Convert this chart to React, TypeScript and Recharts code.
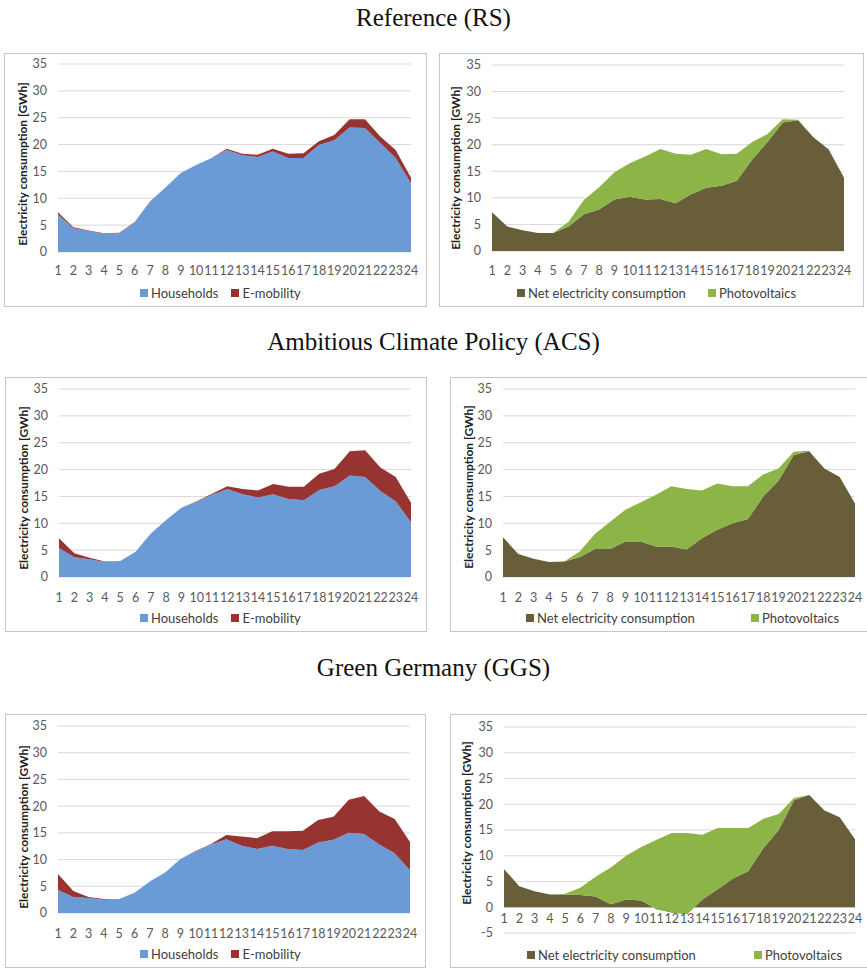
import { Area, AreaChart, CartesianGrid, Legend, XAxis, YAxis } from "recharts";

const FONT = "Lato, 'Open Sans', sans-serif";
const BLUE = "#6a9bd6";
const RED = "#973432";
const OLIVE = "#685e3a";
const GREEN = "#8cb446";

const HOURS = [
  "1", "2", "3", "4", "5", "6", "7", "8", "9", "10", "11", "12",
  "13", "14", "15", "16", "17", "18", "19", "20", "21", "22", "23", "24",
];

// Reference (RS)
const RS_HOUSEHOLDS = [7.0, 4.4, 3.9, 3.4, 3.5, 5.5, 9.3, 12.0, 14.7, 16.2, 17.5, 19.0, 18.0, 17.7, 18.7, 17.5, 17.5, 19.9, 20.8, 23.2, 23.1, 20.3, 17.5, 12.8];
const RS_EMOBILITY = [0.4, 0.2, 0.1, 0.1, 0.1, 0.1, 0.1, 0, 0, 0, 0, 0.2, 0.3, 0.4, 0.5, 0.8, 0.9, 0.7, 1.0, 1.5, 1.6, 1.2, 1.5, 1.0];
const RS_NET = [7.3, 4.6, 3.9, 3.4, 3.4, 4.6, 6.9, 7.8, 9.7, 10.2, 9.7, 9.8, 9.0, 10.7, 11.9, 12.3, 13.2, 17.2, 20.5, 24.2, 24.6, 21.4, 19.1, 13.8];
const RS_PV = [0, 0, 0, 0, 0, 0.9, 2.7, 4.2, 5.1, 6.3, 8.1, 9.4, 9.3, 7.4, 7.3, 5.9, 5.1, 3.3, 1.5, 0.6, 0.1, 0, 0, 0];

// Ambitious Climate Policy (ACS)
const ACS_HOUSEHOLDS = [5.4, 3.7, 3.3, 2.8, 3.0, 4.7, 8.1, 10.6, 12.9, 14.0, 15.3, 16.4, 15.4, 14.8, 15.4, 14.5, 14.3, 16.2, 16.9, 18.9, 18.6, 16.0, 14.1, 10.2];
const ACS_EMOBILITY = [1.8, 0.7, 0.3, 0.1, 0, 0, 0, 0, 0, 0.1, 0.2, 0.5, 1.0, 1.3, 1.9, 2.3, 2.5, 3.0, 3.2, 4.5, 5.0, 4.4, 4.5, 3.6];
const ACS_NET = [7.4, 4.3, 3.4, 2.8, 2.9, 3.7, 5.2, 5.2, 6.6, 6.6, 5.7, 5.7, 5.1, 7.2, 8.8, 10.0, 10.8, 15.0, 17.9, 22.7, 23.4, 20.2, 18.6, 13.7];
const ACS_PV = [0, 0, 0, 0, 0, 1.0, 2.8, 5.1, 5.9, 7.3, 9.6, 11.2, 11.3, 8.9, 8.6, 6.9, 6.1, 4.1, 2.3, 0.6, 0.1, 0, 0, 0];

// Green Germany (GGS)
const GGS_HOUSEHOLDS = [4.3, 3.0, 2.8, 2.5, 2.6, 3.8, 5.9, 7.6, 10.1, 11.5, 12.8, 13.8, 12.6, 12.0, 12.6, 12.0, 11.8, 13.2, 13.7, 15.0, 14.8, 12.8, 11.2, 8.0];
const GGS_EMOBILITY = [3.0, 1.1, 0.2, 0.1, 0, 0, 0, 0, 0, 0.1, 0.1, 0.8, 1.7, 2.0, 2.7, 3.3, 3.6, 4.2, 4.3, 6.2, 7.1, 6.2, 6.4, 5.3];
const GGS_NET = [7.4, 4.1, 3.1, 2.5, 2.5, 2.4, 2.1, 0.6, 1.5, 1.3, -0.4, -1.0, -1.3, 1.5, 3.5, 5.6, 7.0, 11.5, 15.0, 20.8, 21.8, 18.8, 17.5, 13.2];
const GGS_PV = [0, 0, 0, 0, 0.1, 1.4, 3.8, 7.1, 8.5, 10.4, 13.5, 15.4, 15.7, 12.6, 11.9, 9.8, 8.4, 5.7, 3.1, 0.4, 0, 0, 0, 0];

const TICKS = [0, 5, 10, 15, 20, 25, 30, 35];
const TICKS_NEG = [-5, 0, 5, 10, 15, 20, 25, 30, 35];

type Series = { key: string; name: string; color: string };
const DEMAND: Series[] = [
  { key: "a", name: "Households", color: BLUE },
  { key: "b", name: "E-mobility", color: RED },
];
const SUPPLY: Series[] = [
  { key: "a", name: "Net electricity consumption", color: OLIVE },
  { key: "b", name: "Photovoltaics", color: GREEN },
];

const rows = (a: number[], b: number[]) => HOURS.map((hour, i) => ({ hour, a: a[i], b: b[i] }));

type PanelCfg = {
  box: { x: number; y: number; w: number; h: number };
  plot: { l: number; r: number; t: number; b: number };
  domain: [number, number];
  ticks: number[];
  titleX: number;
  titleY: number;
  tickY: number;
  legendX: number;
  legendY: number;
  legendGap: number;
};

function Panel({ cfg, data, series }: { cfg: PanelCfg; data: any[]; series: Series[] }) {
  const { box, plot } = cfg;
  const xAxisH = 20;
  const margin = {
    top: plot.t - box.y,
    right: box.x + box.w - plot.r,
    left: 0,
    bottom: box.y + box.h - plot.b - xAxisH,
  };
  const tickBase = cfg.tickY - box.y + 4.5;
  const tx = cfg.titleX - box.x;
  const ty = cfg.titleY - box.y;

  return (
    <div
      style={{
        position: "absolute",
        left: box.x,
        top: box.y,
        width: box.w,
        height: box.h,
        border: "1px solid #c6c6c6",
        boxSizing: "border-box",
      }}
    >
      <div style={{ position: "absolute", left: -1, top: -1 }}>
        <AreaChart width={box.w} height={box.h} data={data} margin={margin}>
          <CartesianGrid vertical={false} stroke="#d9d9d9" />
          <XAxis
            dataKey="hour"
            interval={0}
            axisLine={false}
            tickLine={false}
            height={xAxisH}
            tick={(p: any) => (
              <text x={p.x} y={tickBase} textAnchor="middle" fontFamily={FONT} fontSize={12.5} fill="#595959">
                {p.payload.value}
              </text>
            )}
          />
          <YAxis
            width={plot.l - box.x}
            domain={cfg.domain}
            ticks={cfg.ticks}
            interval={0}
            axisLine={false}
            tickLine={false}
            tickSize={0}
            tickMargin={11}
            tick={{ fontFamily: FONT, fontSize: 12.5, fill: "#595959" }}
            label={() => (
              <text
                x={tx}
                y={ty}
                transform={`rotate(-90, ${tx}, ${ty})`}
                textAnchor="middle"
                dominantBaseline="central"
                fontFamily={FONT}
                fontWeight="bold"
                fontSize={12}
                fill="#222"
              >
                Electricity consumption [GWh]
              </text>
            )}
          />
          {series.map((s) => (
            <Area
              key={s.key}
              dataKey={s.key}
              name={s.name}
              type="linear"
              stackId="s"
              stroke="none"
              fill={s.color}
              fillOpacity={1}
              isAnimationActive={false}
            />
          ))}
          <Legend
            layout="horizontal"
            verticalAlign="middle"
            align="center"
            wrapperStyle={{ left: cfg.legendX - box.x, top: cfg.legendY - box.y - 8, width: "auto" }}
            content={() => (
              <div
                style={{
                  display: "flex",
                  alignItems: "center",
                  whiteSpace: "nowrap",
                  fontFamily: FONT,
                  fontSize: 13,
                  lineHeight: "16px",
                  color: "#404040",
                }}
              >
                {series.map((s, i) => (
                  <span
                    key={s.key}
                    style={{
                      display: "inline-flex",
                      alignItems: "center",
                      marginRight: i < series.length - 1 ? cfg.legendGap : 0,
                    }}
                  >
                    <span style={{ display: "inline-block", width: 8, height: 8, background: s.color, marginRight: 3 }} />
                    {s.name}
                  </span>
                ))}
              </div>
            )}
          />
        </AreaChart>
      </div>
    </div>
  );
}

const PANELS: { cfg: PanelCfg; data: any[]; series: Series[] }[] = [
  {
    cfg: { box: { x: 4, y: 53, w: 423, h: 254 }, plot: { l: 58, r: 411, t: 64, b: 252 }, domain: [0, 35], ticks: TICKS, titleX: 22, titleY: 164, tickY: 270, legendX: 140, legendY: 293, legendGap: 13 },
    data: rows(RS_HOUSEHOLDS, RS_EMOBILITY),
    series: DEMAND,
  },
  {
    cfg: { box: { x: 439, y: 53, w: 425, h: 254 }, plot: { l: 492, r: 844, t: 65, b: 251 }, domain: [0, 35], ticks: TICKS, titleX: 455, titleY: 168, tickY: 270, legendX: 517, legendY: 293, legendGap: 22 },
    data: rows(RS_NET, RS_PV),
    series: SUPPLY,
  },
  {
    cfg: { box: { x: 5, y: 377, w: 422, h: 255 }, plot: { l: 59, r: 411, t: 389, b: 577 }, domain: [0, 35], ticks: TICKS, titleX: 23, titleY: 488, tickY: 597, legendX: 140, legendY: 618, legendGap: 13 },
    data: rows(ACS_HOUSEHOLDS, ACS_EMOBILITY),
    series: DEMAND,
  },
  {
    cfg: { box: { x: 450, y: 377, w: 422, h: 255 }, plot: { l: 503, r: 855, t: 389, b: 577 }, domain: [0, 35], ticks: TICKS, titleX: 468, titleY: 487, tickY: 597, legendX: 526, legendY: 618, legendGap: 56 },
    data: rows(ACS_NET, ACS_PV),
    series: SUPPLY,
  },
  {
    cfg: { box: { x: 5, y: 714, w: 421, h: 254 }, plot: { l: 58, r: 410, t: 726, b: 913 }, domain: [0, 35], ticks: TICKS, titleX: 23, titleY: 827, tickY: 933, legendX: 140, legendY: 954, legendGap: 13 },
    data: rows(GGS_HOUSEHOLDS, GGS_EMOBILITY),
    series: DEMAND,
  },
  {
    cfg: { box: { x: 450, y: 714, w: 422, h: 254 }, plot: { l: 504, r: 855, t: 727, b: 933 }, domain: [-5, 35], ticks: TICKS_NEG, titleX: 466, titleY: 823, tickY: 918, legendX: 527, legendY: 955, legendGap: 58 },
    data: rows(GGS_NET, GGS_PV),
    series: SUPPLY,
  },
];

const TITLES = [
  { text: "Reference (RS)", y: 18 },
  { text: "Ambitious Climate Policy (ACS)", y: 342 },
  { text: "Green Germany (GGS)", y: 668 },
];

export default function App() {
  return (
    <div
      style={{
        position: "absolute",
        left: 0,
        top: 0,
        width: 867,
        height: 969,
        overflow: "hidden",
        background: "#fff",
      }}
    >
      {TITLES.map((t) => (
        <div
          key={t.text}
          style={{
            position: "absolute",
            left: 0,
            width: 867,
            top: t.y - 13,
            height: 26,
            lineHeight: "26px",
            textAlign: "center",
            fontFamily: "'Liberation Serif', 'Times New Roman', serif",
            fontSize: 25,
            color: "#111",
          }}
        >
          {t.text}
        </div>
      ))}
      {PANELS.map((p, i) => (
        <Panel key={i} cfg={p.cfg} data={p.data} series={p.series} />
      ))}
    </div>
  );
}
